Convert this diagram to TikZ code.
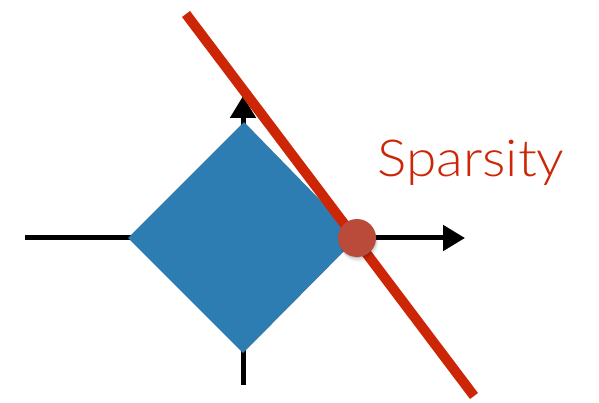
\documentclass[tikz,border=0pt]{standalone}
\usepackage{fontspec}
\setmainfont{Lato}[UprightFont=* Light]
\usetikzlibrary{arrows.meta,calc}
\definecolor{ballblue}{RGB}{46,125,178}
\definecolor{linered}{RGB}{204,38,6}
\definecolor{dotred}{RGB}{186,74,58}
\begin{document}
\begin{tikzpicture}[x=1pt,y=-1pt,
    axis/.style={line width=5pt, draw=black},
    tip/.style={-{Triangle[length=22pt,width=25pt]}},
    constraint/.style={line width=10pt, draw=linered},
    ball/.style={fill=ballblue},
    dotstyle/.style={circle, fill=dotred, minimum size=38pt, inner sep=0pt},
    label/.style={anchor=base west, text=linered, inner sep=0pt,
                  font=\fontsize{51}{51}\selectfont, xscale=1.08}]
  \useasboundingbox (0,0) rectangle (599,403);

  % axes
  \coordinate (xs) at (25,238);
  \coordinate (xe) at (465,238);
  \coordinate (ys) at (243,385);
  \coordinate (ye) at (243,96);
  \draw[axis,tip] (xs) -- (xe);
  \draw[axis,tip] (ys) -- (ye);

  % L1 ball corners
  \coordinate (L) at (128,238);
  \coordinate (T) at (244,122);
  \coordinate (R) at (357,238);
  \coordinate (B) at (243,353);

  % soft shadow under the ball
  \foreach \s/\o in {1/0.10,3/0.08,5/0.07,7/0.05}
    \fill[black, opacity=\o, shift={(0.4*\s,\s)}] (L) -- (T) -- (R) -- (B) -- cycle;
  \fill[ball] (L) -- (T) -- (R) -- (B) -- cycle;

  % constraint line
  \coordinate (ca) at (186,14);
  \coordinate (cb) at (474,396);
  \draw[constraint] (ca) -- (cb);

  % sparse solution
  \foreach \s/\o in {1/0.12,3/0.08,5/0.05}
    \fill[black, opacity=\o] ($(R)+(0.4*\s,\s)$) circle (19);
  \node[dotstyle] (dot) at (R) {};

  \node[label] (lbl) at (377,177) {Sparsity};
\end{tikzpicture}
\end{document}
